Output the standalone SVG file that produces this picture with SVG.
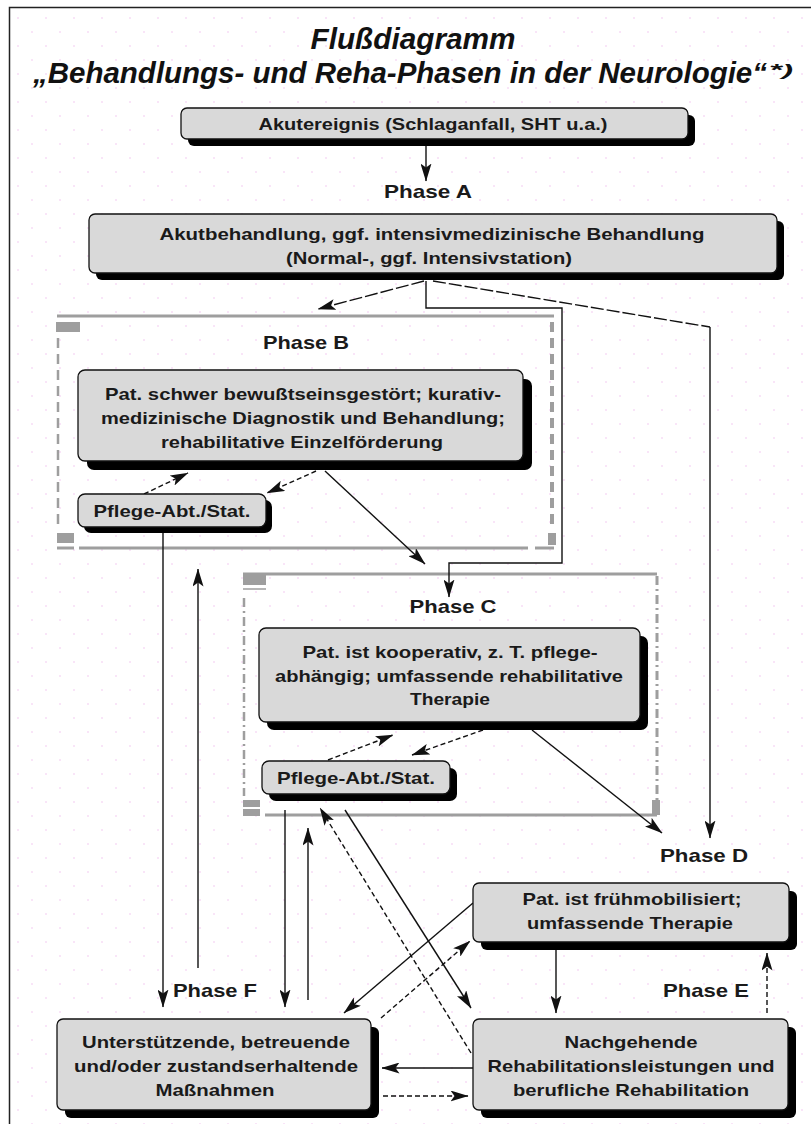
<svg xmlns="http://www.w3.org/2000/svg" width="811" height="1124" viewBox="0 0 811 1124">
<style>
.bg{fill:#ffffff}
.title{font-family:"Liberation Sans",Arial,sans-serif;font-weight:bold;font-style:italic;fill:#111}
.t{font-family:"Liberation Sans",Arial,sans-serif;font-weight:bold;font-size:17px;fill:#1a1a1a;text-anchor:middle}
.ph{font-family:"Liberation Sans",Arial,sans-serif;font-weight:bold;font-size:19px;fill:#1a1a1a;text-anchor:middle}
.box{fill:#d9d9d9;stroke:#111;stroke-width:1.3}
.sh{fill:#000}
.c{fill:none;stroke:#111;stroke-width:1.4}
.ca{fill:none;stroke:#111;stroke-width:1.4;marker-end:url(#ah)}
.d{stroke-dasharray:5,3}
.ld{stroke-dasharray:13,3}
.fr{fill:none;stroke:#9e9e9e}
.frr{fill:#9e9e9e}
</style>
<defs>
<marker id="ah" viewBox="0 0 18 11" refX="17.5" refY="5.5" markerWidth="18" markerHeight="11" markerUnits="userSpaceOnUse" orient="auto">
<path d="M0,0 L18,5.5 L0,11 L4,5.5 z" fill="#111"/>
</marker>
<pattern id="dots" width="28" height="28" patternUnits="userSpaceOnUse">
<circle cx="4" cy="4" r="0.8" fill="#f2c4ef"/>
<circle cx="18" cy="18" r="0.8" fill="#f2c4ef"/>
</pattern>
</defs>
<rect class="bg" x="0" y="0" width="811" height="1124"/>
<rect x="10" y="8" width="801" height="1116" fill="url(#dots)"/>
<path d="M9.5,1124 V7.5 H811" fill="none" stroke="#222" stroke-width="1.5"/>

<g id="title">
<text class="title" x="413" y="49" font-size="29" text-anchor="middle" textLength="205" lengthAdjust="spacingAndGlyphs">Flußdiagramm</text>
<text class="title" x="33" y="83" font-size="29" textLength="734" lengthAdjust="spacingAndGlyphs">„Behandlungs- und Reha-Phasen in der Neurologie“</text>
<text class="title" x="769" y="76" font-size="16" textLength="24" lengthAdjust="spacingAndGlyphs">*)</text>
</g>

<g id="frameB">
<line class="fr" x1="57" y1="316" x2="554" y2="316" stroke-width="3"/>
<rect class="frr" x="56" y="322" width="24" height="10"/>
<line class="fr" x1="58" y1="338" x2="58" y2="530" stroke-width="2.5" stroke-dasharray="10,6"/>
<line class="fr" x1="552" y1="322" x2="552" y2="530" stroke-width="4" stroke-dasharray="10,6"/>
<rect class="frr" x="57" y="533" width="17" height="10"/>
<rect class="frr" x="548" y="533" width="8" height="12"/>
<line class="fr" x1="57" y1="548" x2="74" y2="548" stroke-width="3"/>
<line class="fr" x1="79" y1="548" x2="528" y2="548" stroke-width="3"/>
<line class="fr" x1="535" y1="548" x2="554" y2="548" stroke-width="3"/>
</g>

<g id="frameC">
<line class="fr" x1="243" y1="574" x2="657" y2="574" stroke-width="3"/>
<rect class="frr" x="243" y="575" width="23" height="10"/>
<line class="fr" x1="243" y1="589" x2="266" y2="589" stroke-width="1.5"/>
<line class="fr" x1="244" y1="598" x2="244" y2="796" stroke-width="2.5" stroke-dasharray="9,4,2,4"/>
<line class="fr" x1="657" y1="576" x2="657" y2="800" stroke-width="3" stroke-dasharray="9,4,2,4"/>
<rect class="frr" x="243" y="800" width="17" height="7"/>
<rect class="frr" x="243" y="809" width="17" height="7"/>
<rect class="frr" x="652" y="800" width="8" height="15"/>
<line class="fr" x1="265" y1="815" x2="657" y2="815" stroke-width="3"/>
</g>

<g id="connectors">
<line class="ca" x1="426" y1="146" x2="426" y2="181"/>
<line class="ca ld" x1="424" y1="281" x2="318" y2="309"/>
<polyline class="ca" points="426,281 426,308 562,308 562,563 449,563 449,597"/>
<line class="c ld" x1="433" y1="281" x2="710" y2="327"/>
<line class="ca" x1="710" y1="327" x2="710" y2="838"/>
<line class="ca d" x1="144" y1="494" x2="188" y2="473"/>
<line class="ca d" x1="316" y1="471" x2="267" y2="493"/>
<line class="ca" x1="325" y1="471" x2="425" y2="564"/>
<line class="ca" x1="163" y1="533" x2="163" y2="1007"/>
<line class="ca" x1="198" y1="968" x2="198" y2="569"/>
<line class="ca d" x1="328" y1="760" x2="393" y2="735"/>
<line class="ca d" x1="483" y1="730" x2="412" y2="755"/>
<line class="ca" x1="532" y1="730" x2="662" y2="833"/>
<line class="ca" x1="285" y1="810" x2="285" y2="1007"/>
<line class="ca" x1="308" y1="1000" x2="308" y2="828"/>
<line class="ca" x1="345" y1="810" x2="471" y2="1008"/>
<line class="ca d" x1="471" y1="1053" x2="320" y2="808"/>
<line class="ca" x1="556" y1="950" x2="556" y2="1013"/>
<line class="ca d" x1="767" y1="1013" x2="767" y2="953"/>
<line class="ca" x1="473" y1="903" x2="344" y2="1013"/>
<line class="ca d" x1="381" y1="1018" x2="470" y2="941"/>
<line class="ca" x1="473" y1="1068" x2="382" y2="1068"/>
<line class="ca d" x1="383" y1="1096" x2="468" y2="1096"/>
</g>

<g id="n1">
<rect class="sh" x="188" y="115" width="507" height="31" rx="6"/>
<rect class="box" x="181" y="108" width="507" height="31" rx="6"/>
<text class="t" x="433" y="130" textLength="349" lengthAdjust="spacingAndGlyphs">Akutereignis (Schlaganfall, SHT u.a.)</text>
</g>

<g id="phaseA"><text class="ph" x="428" y="198" textLength="88" lengthAdjust="spacingAndGlyphs">Phase A</text></g>

<g id="n2">
<rect class="sh" x="96" y="221" width="688" height="59" rx="6"/>
<rect class="box" x="89" y="214" width="688" height="59" rx="6"/>
<text class="t" x="432" y="240" textLength="545" lengthAdjust="spacingAndGlyphs">Akutbehandlung, ggf. intensivmedizinische Behandlung</text>
<text class="t" x="429" y="264" textLength="286" lengthAdjust="spacingAndGlyphs">(Normal-, ggf. Intensivstation)</text>
</g>

<g id="phaseB"><text class="ph" x="306" y="349" textLength="86" lengthAdjust="spacingAndGlyphs">Phase B</text></g>

<g id="n3">
<rect class="sh" x="87" y="379" width="445" height="91" rx="7"/>
<rect class="box" x="78" y="370" width="445" height="91" rx="7"/>
<text class="t" x="303" y="400" textLength="396" lengthAdjust="spacingAndGlyphs">Pat. schwer bewußtseinsgestört; kurativ-</text>
<text class="t" x="303" y="424" textLength="404" lengthAdjust="spacingAndGlyphs">medizinische Diagnostik und Behandlung;</text>
<text class="t" x="302" y="448" textLength="282" lengthAdjust="spacingAndGlyphs">rehabilitative Einzelförderung</text>
</g>

<g id="n4">
<rect class="sh" x="84" y="500" width="188" height="33" rx="7"/>
<rect class="box" x="78" y="494" width="188" height="33" rx="7"/>
<text class="t" x="172" y="517" textLength="157" lengthAdjust="spacingAndGlyphs">Pflege-Abt./Stat.</text>
</g>

<g id="phaseC"><text class="ph" x="453" y="613" textLength="87" lengthAdjust="spacingAndGlyphs">Phase C</text></g>

<g id="n5">
<rect class="sh" x="267" y="636" width="381" height="94" rx="7"/>
<rect class="box" x="259" y="628" width="381" height="94" rx="7"/>
<text class="t" x="450" y="658" textLength="295" lengthAdjust="spacingAndGlyphs">Pat. ist kooperativ, z. T. pflege-</text>
<text class="t" x="449" y="682" textLength="348" lengthAdjust="spacingAndGlyphs">abhängig; umfassende rehabilitative</text>
<text class="t" x="450" y="705" textLength="80" lengthAdjust="spacingAndGlyphs">Therapie</text>
</g>

<g id="n6">
<rect class="sh" x="269" y="768" width="188" height="33" rx="7"/>
<rect class="box" x="262" y="761" width="188" height="33" rx="7"/>
<text class="t" x="356" y="784" textLength="158" lengthAdjust="spacingAndGlyphs">Pflege-Abt./Stat.</text>
</g>

<g id="phaseD"><text class="ph" x="704" y="862" textLength="88" lengthAdjust="spacingAndGlyphs">Phase D</text></g>

<g id="n7">
<rect class="sh" x="481" y="891" width="316" height="59" rx="6"/>
<rect class="box" x="473" y="883" width="316" height="59" rx="6"/>
<text class="t" x="632" y="905" textLength="219" lengthAdjust="spacingAndGlyphs">Pat. ist frühmobilisiert;</text>
<text class="t" x="630" y="929" textLength="206" lengthAdjust="spacingAndGlyphs">umfassende Therapie</text>
</g>

<g id="phaseE"><text class="ph" x="706" y="997" textLength="86" lengthAdjust="spacingAndGlyphs">Phase E</text></g>
<g id="phaseF"><text class="ph" x="215" y="997" textLength="84" lengthAdjust="spacingAndGlyphs">Phase F</text></g>

<g id="n8">
<rect class="sh" x="65" y="1027" width="314" height="91" rx="6"/>
<rect class="box" x="57" y="1019" width="314" height="91" rx="6"/>
<text class="t" x="216" y="1048" textLength="268" lengthAdjust="spacingAndGlyphs">Unterstützende, betreuende</text>
<text class="t" x="216" y="1072" textLength="284" lengthAdjust="spacingAndGlyphs">und/oder zustandserhaltende</text>
<text class="t" x="215" y="1096" textLength="119" lengthAdjust="spacingAndGlyphs">Maßnahmen</text>
</g>

<g id="n9">
<rect class="sh" x="481" y="1027" width="315" height="91" rx="6"/>
<rect class="box" x="473" y="1019" width="315" height="91" rx="6"/>
<text class="t" x="631" y="1048" textLength="133" lengthAdjust="spacingAndGlyphs">Nachgehende</text>
<text class="t" x="631" y="1072" textLength="287" lengthAdjust="spacingAndGlyphs">Rehabilitationsleistungen und</text>
<text class="t" x="631" y="1096" textLength="236" lengthAdjust="spacingAndGlyphs">berufliche Rehabilitation</text>
</g>
</svg>
